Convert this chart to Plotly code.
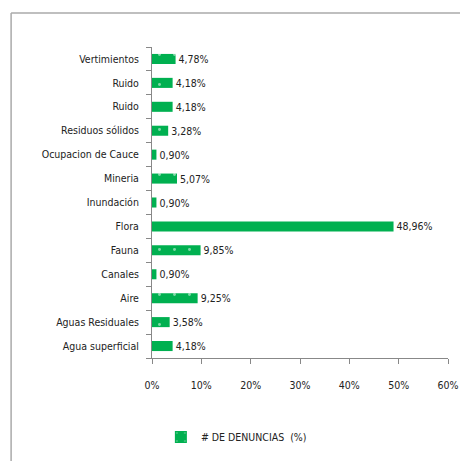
import plotly.graph_objects as go

categories = [
    "Agua superficial", "Aguas Residuales", "Aire", "Canales", "Fauna", "Flora",
    "Inundación", "Mineria", "Ocupacion de Cauce", "Residuos sólidos", "Ruido",
    "Ruido", "Vertimientos",
]
values = [4.18, 3.58, 9.25, 0.90, 9.85, 48.96, 0.90, 5.07, 0.90, 3.28, 4.18, 4.18, 4.78]
x_ticks = [0, 10, 20, 30, 40, 50, 60]
x_labels = ["0%", "10%", "20%", "30%", "40%", "50%", "60%"]

font = "DejaVu Sans Condensed, Liberation Sans Narrow, sans-serif"
green = "#00B050"
pos = list(range(len(categories)))

fig = go.Figure()
fig.add_trace(go.Bar(
    y=pos, x=values, orientation="h", width=0.42,
    name="# DE DENUNCIAS  (%)",
    marker=dict(color=green, line=dict(width=0),
                pattern=dict(shape=".", fgcolor="white", bgcolor=green,
                             size=15, solidity=0.03)),
    texttemplate="%{x:.2f}%", textposition="outside", constraintext="none",
    textfont=dict(family=font, size=10.5, color="#222"),
    cliponaxis=False,
))

# page body adds ~8px offset, so margins are shifted up-left
fig.update_layout(
    width=468, height=461,
    margin=dict(l=144, r=28, t=39, b=111, autoexpand=False),
    paper_bgcolor="white", plot_bgcolor="white",
    separators=",.",
    font=dict(family=font, size=10.5, color="#222"),
    showlegend=True,
    legend=dict(orientation="h", x=0.03, y=-0.254, xanchor="left", yanchor="middle",
                font=dict(family=font, size=10.5)),
    xaxis=dict(range=[0, 60], tickvals=x_ticks, ticktext=x_labels, automargin=False,
               showgrid=False, zeroline=False,
               showline=True, linecolor="#888", linewidth=1,
               ticks="outside", ticklen=5, tickcolor="#888",
               ticklabelstandoff=12),
    yaxis=dict(range=[-0.5, len(categories) - 0.5], tickvals=pos, ticktext=categories,
               automargin=False, showgrid=False, zeroline=False,
               showline=True, linecolor="#888", linewidth=1,
               ticks="", ticklabelstandoff=10,
               minor=dict(ticks="outside", ticklen=5, tickcolor="#888",
                          tickmode="linear", tick0=-0.5, dtick=1)),
    shapes=[
        dict(type="line", xref="paper", yref="paper", x0=-0.476, x1=1.2, y0=1.109, y1=1.109,
             line=dict(color="#aaa", width=1.5)),
        dict(type="line", xref="paper", yref="paper", x0=-0.476, x1=-0.476, y0=1.109, y1=-0.4,
             line=dict(color="#aaa", width=1.5)),
    ],
)

fig.write_html("out.html")
